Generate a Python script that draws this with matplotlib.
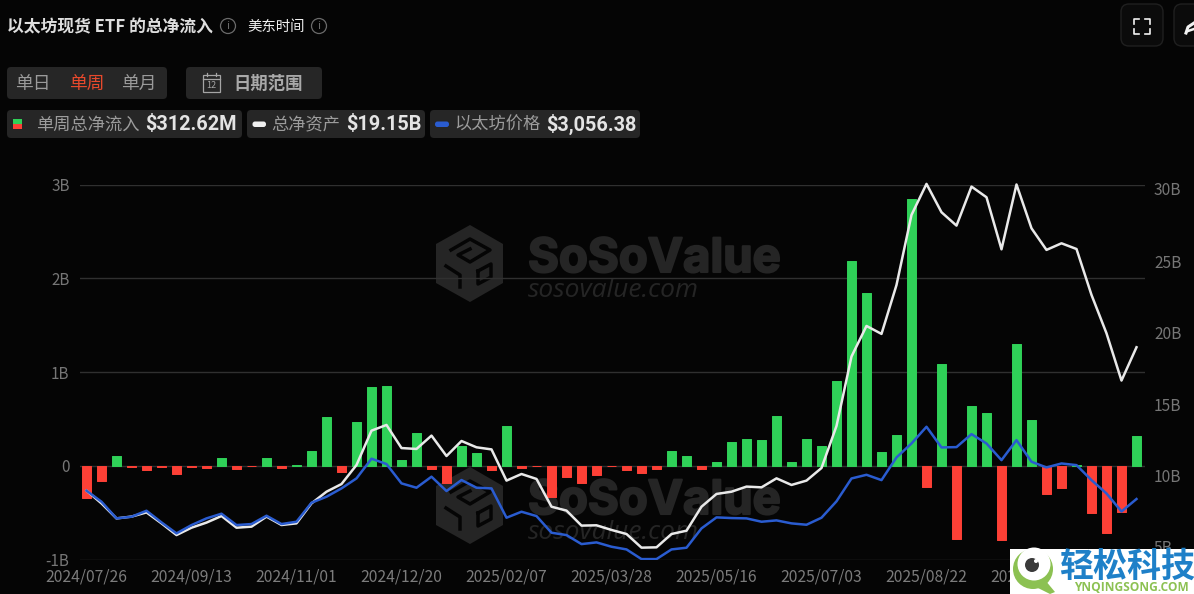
import matplotlib
matplotlib.use('Agg')
import matplotlib.pyplot as plt
import matplotlib.patheffects as pe
from matplotlib.patches import FancyBboxPatch, Circle, Polygon, Rectangle

plt.rcParams['font.family'] = ['Noto Sans CJK SC', 'DejaVu Sans']

# weekly net flow, $B
flows = [-0.34, -0.165, 0.10, -0.01, -0.04, -0.01, -0.09, -0.01, -0.02, 0.085,
         -0.03, -0.005, 0.08, -0.02, 0.01, 0.155, 0.515, -0.07, 0.465, 0.835,
         0.855, 0.06, 0.35, -0.035, -0.18, 0.21, 0.14, -0.04, 0.425, -0.02,
         -0.003, -0.33, -0.12, -0.18, -0.10, -0.005, -0.045, -0.08, -0.03, 0.16,
         0.105, -0.035, 0.04, 0.25, 0.29, 0.28, 0.53, 0.04, 0.285, 0.215,
         0.905, 2.18, 1.84, 0.15, 0.33, 2.85, -0.23, 1.085, -0.78, 0.637,
         0.56, -0.795, 1.30, 0.49, -0.305, -0.24, 0.01, -0.50, -0.72, -0.495,
         0.313]

# total net assets, $B
assets = [9.59, 8.74, 7.74, 7.86, 8.14, 7.41, 6.63, 7.12, 7.46, 7.9,
          7.12, 7.19, 7.86, 7.3, 7.41, 8.74, 9.52, 10.03, 11.3, 13.59,
          13.97, 12.43, 12.37, 13.26, 11.9, 12.9, 12.48, 12.34, 10.26, 10.7,
          10.37, 8.52, 8.26, 7.26, 7.28, 6.97, 6.7, 5.79, 5.81, 6.7,
          6.92, 8.52, 9.37, 9.52, 9.86, 9.81, 10.41, 9.97, 10.26, 11.1,
          13.9, 18.53, 20.57, 20.04, 23.3, 27.97, 30.04, 28.15, 27.26, 29.86,
          29.15, 25.68, 30.0, 27.08, 25.64, 26.08, 25.7, 22.64, 20.08, 16.93,
          19.15]

# ETH price, $
price = [3257, 2990, 2587, 2627, 2772, 2490, 2224, 2425, 2587, 2700,
         2425, 2450, 2651, 2450, 2506, 2966, 3111, 3313, 3555, 4031,
         3902, 3434, 3329, 3596, 3249, 3515, 3329, 3313, 2603, 2748,
         2643, 2240, 2183, 1965, 2006, 1901, 1836, 1602, 1602, 1836,
         1877, 2345, 2611, 2595, 2587, 2506, 2538, 2466, 2433, 2603,
         3000, 3553, 3642, 3513, 4062, 4400, 4804, 4304, 4312, 4626,
         4400, 3997, 4481, 3957, 3820, 3916, 3876, 3513, 3190, 2754,
         3056]

date_pos = [0, 7, 14, 21, 28, 35, 42, 49, 56, 63]
date_labels = ['2024/07/26', '2024/09/13', '2024/11/01', '2024/12/20', '2025/02/07',
               '2025/03/28', '2025/05/16', '2025/07/03', '2025/08/22', '2025/10/10']
left_ticks = [-1, 0, 1, 2, 3]
left_labels = ['-1B', '0', '1B', '2B', '3B']
right_ticks = [30, 25, 20, 15, 10, 5]
right_labels = ['30B', '25B', '20B', '15B', '10B', '5B']
right_shift = [6, 3.5, 0, -3, -7, -11]  # the labels sit off their grid position

BG = '#050505'
PILL = '#262626'
GREEN = '#2fd158'
RED = '#fd4036'
BLUE = '#2a5cd0'
WHITE = '#e9e9e9'
TICK = '#767676'
GRID = '#303030'
MARK = '#252525'

W, H = 1194, 594
fig = plt.figure(figsize=(W / 100, H / 100), dpi=100, facecolor=BG)


def pixel_axes(z):
    a = fig.add_axes([0, 0, 1, 1], zorder=z)
    a.set_xlim(0, W)
    a.set_ylim(H, 0)
    a.axis('off')
    a.patch.set_alpha(0)
    return a


def pill(a, x0, y0, x1, y1, color=PILL, r=4, **kw):
    a.add_patch(FancyBboxPatch((x0, y0), x1 - x0, y1 - y0, boxstyle=f'round,pad=0,rounding_size={r}',
                               facecolor=color, edgecolor='none', **kw))


# watermarks behind the chart
back = pixel_axes(0)


def watermark(y):
    hexagon = [(470, y), (503, y + 19), (503, y + 58), (470, y + 77), (436, y + 58), (436, y + 19)]
    back.add_patch(Polygon(hexagon, closed=True, facecolor=MARK, edgecolor='none'))
    back.plot([451, 470, 490, 470, 458, 470], [y + 25, y + 14, y + 25, y + 37, y + 30, y + 24],
              color=BG, lw=2.5)
    back.plot([446, 460, 460], [y + 41, y + 50, y + 62], color=BG, lw=2.5)
    back.plot([478, 491, 491, 478, 478], [y + 46, y + 39, y + 52, y + 59, y + 46], color=BG, lw=2.5)
    t = back.text(528, y + 47, 'SoSoValue', color=MARK, fontsize=34, fontweight='bold',
                  family='Inter', va='baseline', ha='left')
    t.set_path_effects([pe.withStroke(linewidth=1.5, foreground=MARK)])
    back.text(528, y + 72, 'sosovalue.com', color=MARK, fontsize=19, style='italic',
              family='Open Sans', va='baseline', ha='left')


watermark(225)
watermark(467)

# chart
ax = fig.add_axes([80 / W, 1 - 559.5 / H, 1065 / W, 375 / H], zorder=1)
ax.patch.set_alpha(0)
x = list(range(len(flows)))
colors = [GREEN if v >= 0 else RED for v in flows]
ax.bar(x, flows, width=0.6, color=colors, edgecolor=colors, linewidth=0.7, joinstyle='round', zorder=3)
ax.set_xlim(-0.433, 70.567)
ax.set_ylim(-1, 3)
ax.set_yticks(left_ticks)
ax.set_yticklabels(left_labels)
ax.set_xticks(date_pos)
ax.set_xticklabels(date_labels, fontsize=11.3)
ax.tick_params(axis='x', length=0, pad=6.5, labelcolor='#7c7c7c')
ax.tick_params(axis='y', length=0, pad=7.5, labelsize=11, labelcolor=TICK)
ax.grid(axis='y', color=GRID, lw=1, zorder=1)
for s in ax.spines.values():
    s.set_visible(False)

ax2 = ax.twinx()
ax2.plot(x, assets, color=WHITE, lw=1.8, zorder=4, clip_on=False)
ax2.set_ylim(5, 30)
ax2.set_yticks([])
for s in ax2.spines.values():
    s.set_visible(False)
for v, lab, dy in zip(right_ticks, right_labels, right_shift):
    ax2.annotate(lab, xy=(1, v), xycoords=ax2.get_yaxis_transform(), xytext=(9, -dy),
                 textcoords='offset pixels', color=TICK, fontsize=11.2, va='center', ha='left',
                 annotation_clip=False)

ax3 = ax.twinx()
ax3.plot(x, price, color=BLUE, lw=1.8, zorder=5)
ax3.set_ylim(1592, 10667)
ax3.set_yticks([])
for s in ax3.spines.values():
    s.set_visible(False)

# header and controls
top = pixel_axes(5)
top.text(7, 27, '以太坊现货 ETF 的总净流入', color='#dedede', fontsize=12.1, fontweight='bold', va='center', ha='left')
top.text(247, 27, '美东时间', color='#efefef', fontsize=10.4, va='center', ha='left')
for cx in (228, 319):
    top.add_patch(Circle((cx, 26), 7.5, facecolor='none', edgecolor='#6a6a6a', lw=0.9))
    top.text(cx, 26, 'i', color='#6a6a6a', fontsize=8, va='center', ha='center')

pill(top, 7, 67, 167, 99)
pill(top, 186, 67, 322, 99)
top.text(33, 84, '单日', color='#9a9a9a', fontsize=12.8, va='center', ha='center')
top.text(87, 84, '单周', color='#e8492c', fontsize=12.8, va='center', ha='center')
top.text(139, 84, '单月', color='#9a9a9a', fontsize=12.8, va='center', ha='center')
top.add_patch(Rectangle((203, 75), 17, 17, facecolor='none', edgecolor='#a5a5a5', lw=0.9))
top.plot([203, 220], [79, 79], color='#a5a5a5', lw=0.9)
top.plot([207, 207], [72.5, 76], color='#a5a5a5', lw=0.9)
top.plot([216, 216], [72.5, 76], color='#a5a5a5', lw=0.9)
top.text(211.5, 85.5, '12', color='#a5a5a5', fontsize=6.5, va='center', ha='center')
top.text(268.5, 84, '日期范围', color='#a9a9a9', fontsize=12.5, fontweight='bold', va='center', ha='center')

pill(top, 7, 110, 242, 138)
pill(top, 247, 110, 425, 138)
pill(top, 430, 110, 640, 138)
top.add_patch(Rectangle((12.5, 119), 9.5, 5, facecolor=GREEN, edgecolor='none'))
top.add_patch(Rectangle((12.5, 124), 9.5, 5, facecolor=RED, edgecolor='none'))
pill(top, 252.5, 121.5, 266, 127, color='#f0f0f0', r=2.5)
pill(top, 435, 121.5, 449, 127, color=BLUE, r=2.5)
top.text(36, 125, '单周总净流入', color='#9c9c9c', fontsize=12.4, va='center', ha='left')
top.text(145, 124, '$312.62M', color='#e4e4e4', fontsize=14.3, fontweight='bold', family='Roboto', va='center', ha='left')
top.text(271, 125, '总净资产', color='#9c9c9c', fontsize=12.4, va='center', ha='left')
top.text(346, 124, '$19.15B', color='#e4e4e4', fontsize=14.3, fontweight='bold', family='Roboto', va='center', ha='left')
top.text(454.5, 125, '以太坊价格', color='#9c9c9c', fontsize=12.4, va='center', ha='left')
top.text(546, 124, '$3,056.38', color='#e4e4e4', fontsize=14.3, fontweight='bold', family='Roboto', va='center', ha='left')

# buttons top right
for x0, x1 in ((1121, 1163), (1174, 1215)):
    top.add_patch(FancyBboxPatch((x0, 4), x1 - x0, 42, boxstyle='round,pad=0,rounding_size=8',
                                 facecolor='#0b0b0b', edgecolor='#202020', lw=1))
for sx, sy in ((1134, 19), (1150, 19), (1134, 34), (1150, 34)):
    dx = 5 if sx < 1142 else -5
    dy = 5 if sy < 26 else -5
    top.plot([sx + dx, sx, sx], [sy, sy, sy + dy], color='#f2f2f2', lw=1.2)
top.plot([1186, 1188, 1194], [33, 27, 23], color='#f2f2f2', lw=2.2)
top.plot([1188, 1194], [31, 29], color='#f2f2f2', lw=1.8)

# site logo in the corner
top.add_patch(Rectangle((1010, 549), 184, 45, facecolor='white', edgecolor='none'))
top.add_patch(Polygon([(1045, 580), (1055, 592), (1050, 594), (1038, 588)], closed=True, facecolor='#8cc152', edgecolor='none'))
top.add_patch(Circle((1033, 569), 20, facecolor='#8cc152', edgecolor='none'))
top.add_patch(Circle((1034, 564), 16.5, facecolor='white', edgecolor='none'))
top.add_patch(Circle((1032, 565), 7, facecolor='#3a3a3a', edgecolor='none'))
top.add_patch(Circle((1036, 561), 2, facecolor='white', edgecolor='none'))
top.text(1127, 566, '轻松科技', color='#1e80c8', fontsize=24.5, fontweight='bold', va='center', ha='center')
top.text(1131, 587.5, 'YNQINGSONG.COM', color='#8cc152', fontsize=8.6, fontweight='bold', family='Open Sans', va='center', ha='center')

plt.savefig('out.png', dpi=100, facecolor=BG)
